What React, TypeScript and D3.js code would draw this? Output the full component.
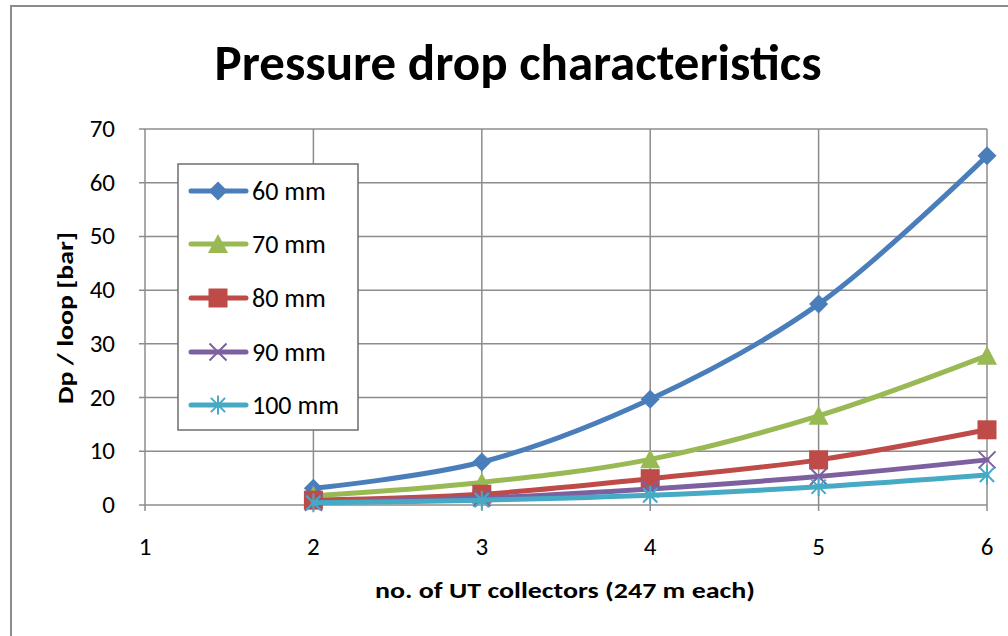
import React from "react";
import * as d3 from "d3";

const xValues = [2, 3, 4, 5, 6];
const seriesNames = ["60 mm", "70 mm", "80 mm", "90 mm", "100 mm"];
const v60 = [3.1, 8.0, 19.7, 37.4, 65.0];
const v70 = [1.7, 4.2, 8.5, 16.6, 27.8];
const v80 = [0.9, 2.0, 4.9, 8.4, 14.0];
const v90 = [0.5, 1.3, 3.0, 5.3, 8.4];
const v100 = [0.4, 0.9, 1.8, 3.4, 5.6];
const seriesValues = [v60, v70, v80, v90, v100];
const colors = ["#4a7ebb", "#98b954", "#be4b48", "#7d60a0", "#46aac5"];
const markers = ["diamond", "triangle", "square", "x", "star"];
const xTicks = [1, 2, 3, 4, 5, 6];
const yTicks = [0, 10, 20, 30, 40, 50, 60, 70];

const W = 1008, H = 636;
const plot = { left: 145, right: 987, top: 129, bottom: 505 };
const font = "Carlito, Calibri, 'Open Sans', sans-serif";

function Marker({ type, x, y, color }: { type: string; x: number; y: number; color: string }) {
  if (type === "diamond") {
    const s = 9.5;
    return <path d={`M${x},${y - s}L${x + s},${y}L${x},${y + s}L${x - s},${y}Z`} fill={color} />;
  }
  if (type === "triangle") {
    const s = 10;
    return <path d={`M${x},${y - s}L${x + s},${y + s * 0.9}L${x - s},${y + s * 0.9}Z`} fill={color} />;
  }
  if (type === "square") {
    const s = 9.5;
    return <rect x={x - s} y={y - s} width={2 * s} height={2 * s} fill={color} />;
  }
  if (type === "x") {
    const s = 8.5;
    return <path d={`M${x - s},${y - s}L${x + s},${y + s}M${x + s},${y - s}L${x - s},${y + s}`} stroke={color} strokeWidth={2} />;
  }
  const s = 9.5;
  const d = s * 0.75;
  return (
    <path
      d={`M${x},${y - s}L${x},${y + s}M${x - d},${y - d}L${x + d},${y + d}M${x + d},${y - d}L${x - d},${y + d}`}
      stroke={color}
      strokeWidth={2}
    />
  );
}

export default function App() {
  const xs = d3.scaleLinear().domain([1, 6]).range([plot.left, plot.right]);
  const ys = d3.scaleLinear().domain([0, 70]).range([plot.bottom, plot.top]);
  const line = d3
    .line<number>()
    .x((_, i) => xs(xValues[i]))
    .y((d) => ys(d))
    .curve(d3.curveCatmullRom.alpha(0.5));

  const legendItemsY = [191, 244, 298, 352, 405];

  return (
    <svg width={W} height={H} style={{ position: "absolute", left: 0, top: 0 }}>
      <rect x={0} y={0} width={W} height={H} fill="#fff" />
      <rect x={11} y={6} width={W + 20} height={H + 20} fill="#fff" stroke="#8c8c8c" strokeWidth={2} />
      <text
        x={518}
        y={80}
        textAnchor="middle"
        fontFamily={font}
        fontWeight="bold"
        fontSize={50}
        textLength={607}
        lengthAdjust="spacingAndGlyphs"
      >
        Pressure drop characteristics
      </text>
      {/* grid */}
      {yTicks.map((t) => (
        <line key={"gy" + t} x1={plot.left - 6} x2={plot.right} y1={ys(t)} y2={ys(t)} stroke="#8c8c8c" strokeWidth={1.5} />
      ))}
      {xTicks.map((t) => (
        <line key={"gx" + t} x1={xs(t)} x2={xs(t)} y1={plot.top} y2={plot.bottom + 6} stroke="#8c8c8c" strokeWidth={1.5} />
      ))}
      {yTicks.map((t) => (
        <text key={"ty" + t} x={115} y={ys(t) + 8} textAnchor="end" fontFamily={font} fontSize={25}>
          {t}
        </text>
      ))}
      {xTicks.map((t) => (
        <text key={"tx" + t} x={xs(t)} y={555} textAnchor="middle" fontFamily={font} fontSize={25}>
          {t}
        </text>
      ))}
      <text
        x={565}
        y={598}
        textAnchor="middle"
        fontFamily={font}
        fontWeight="bold"
        fontSize={23}
        textLength={380}
        lengthAdjust="spacingAndGlyphs"
      >
        no. of UT collectors (247 m each)
      </text>
      <text
        transform={`translate(73,318) rotate(-90)`}
        textAnchor="middle"
        fontFamily={font}
        fontWeight="bold"
        fontSize={23}
        textLength={172}
        lengthAdjust="spacingAndGlyphs"
      >
        Dp / loop [bar]
      </text>
      {/* series */}
      {seriesValues.map((vals, si) => (
        <g key={"s" + si}>
          <path d={line(vals) || ""} fill="none" stroke={colors[si]} strokeWidth={5} strokeLinecap="round" />
          {vals.map((v, i) => (
            <Marker key={i} type={markers[si]} x={xs(xValues[i])} y={ys(v)} color={colors[si]} />
          ))}
        </g>
      ))}
      {/* legend */}
      <rect x={178} y={164} width={180} height={266} fill="#fff" stroke="#6e6e6e" strokeWidth={1.5} />
      {seriesNames.map((n, si) => (
        <g key={"l" + si}>
          <line x1={191} x2={246} y1={legendItemsY[si]} y2={legendItemsY[si]} stroke={colors[si]} strokeWidth={5} strokeLinecap="round" />
          <Marker type={markers[si]} x={218} y={legendItemsY[si]} color={colors[si]} />
          <text x={252} y={legendItemsY[si] + 9} fontFamily={font} fontSize={26}>
            {n}
          </text>
        </g>
      ))}
    </svg>
  );
}
